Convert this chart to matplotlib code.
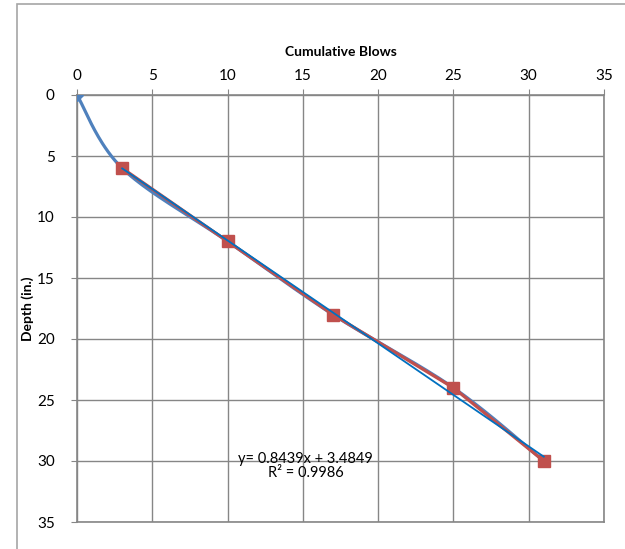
import matplotlib
matplotlib.use('Agg')
import matplotlib.pyplot as plt
from matplotlib.patches import Rectangle
import numpy as np

# data
blows_all = [0, 3, 10, 17, 25, 31]
depth_all = [0, 6, 12, 18, 24, 30]
blows = [3, 10, 17, 25, 31]
depth = [6, 12, 18, 24, 30]
x_ticks = [0, 5, 10, 15, 20, 25, 30, 35]
y_ticks = [0, 5, 10, 15, 20, 25, 30, 35]

plt.rcParams['font.family'] = ['Lato', 'DejaVu Sans']


def smooth(xs, ys, n=40):
    # bezier smoothing like the spreadsheet "smoothed line" option
    p = np.column_stack([xs, ys]).astype(float)
    out = []
    for i in range(len(p) - 1):
        p0 = p[max(i - 1, 0)]
        p1 = p[i]
        p2 = p[i + 1]
        p3 = p[min(i + 2, len(p) - 1)]
        c1 = p1 + (p2 - p0) / 6
        c2 = p2 - (p3 - p1) / 6
        t = np.linspace(0, 1, n)[:, None]
        seg = (1 - t) ** 3 * p1 + 3 * (1 - t) ** 2 * t * c1 + 3 * (1 - t) * t ** 2 * c2 + t ** 3 * p2
        out.append(seg)
    seg = np.vstack(out)
    return seg[:, 0], seg[:, 1]


fig = plt.figure(figsize=(6.25, 5.49), dpi=100)
ax = fig.add_axes([77 / 625, 1 - 522 / 549, (604 - 77) / 625, (522 - 95) / 549])

# outer chart border
fig.add_artist(Rectangle((17 / 625, -0.1), 2, 1.1 - 4 / 549, transform=fig.transFigure,
                         fill=False, edgecolor='#a6a6a6', linewidth=1.2))

sx, sy = smooth(blows_all, depth_all)
ax.plot(sx, sy, color='#4f81bd', linewidth=2.3, zorder=3)
ax.plot(blows_all[:1], depth_all[:1], marker='D', color='#4f81bd', markersize=6.5,
        linestyle='none', zorder=3)
ax.plot(blows, depth, color='#c0504d', linewidth=2.3, marker='s', markersize=8,
        zorder=4)

# linear trendline
m, b = np.polyfit(blows, depth, 1)
pred = m * np.array(blows) + b
r2 = 1 - np.sum((np.array(depth) - pred) ** 2) / np.sum((np.array(depth) - np.mean(depth)) ** 2)
tx = np.array([blows[0], blows[-1]])
ax.plot(tx, m * tx + b, color='#0070c0', linewidth=1.3, zorder=5)
ax.text(15.2, 29.3, 'y= %.4fx + %.4f\nR² = %.4f' % (m, b, r2), ha='center', va='top',
        fontsize=10.5, linespacing=1.0, zorder=6)

ax.set_xlim(0, 35)
ax.set_ylim(35, 0)
ax.set_xticks(x_ticks)
ax.set_yticks(y_ticks)
ax.xaxis.tick_top()
ax.xaxis.set_label_position('top')
ax.tick_params(axis='both', direction='out', length=4, color='#868686', labelsize=11)
ax.tick_params(axis='x', pad=5)
ax.tick_params(axis='y', pad=12)
ax.grid(True, color='#868686', linewidth=1.0)
ax.set_axisbelow(True)
for s in ax.spines.values():
    s.set_color('#868686')
    s.set_linewidth(1.2)

ax.set_xlabel('Cumulative Blows', fontsize=10, fontweight='bold', labelpad=9)
ax.set_ylabel('Depth (in.)', fontsize=10, fontweight='bold', labelpad=2)

plt.savefig('out.png', dpi=100)
